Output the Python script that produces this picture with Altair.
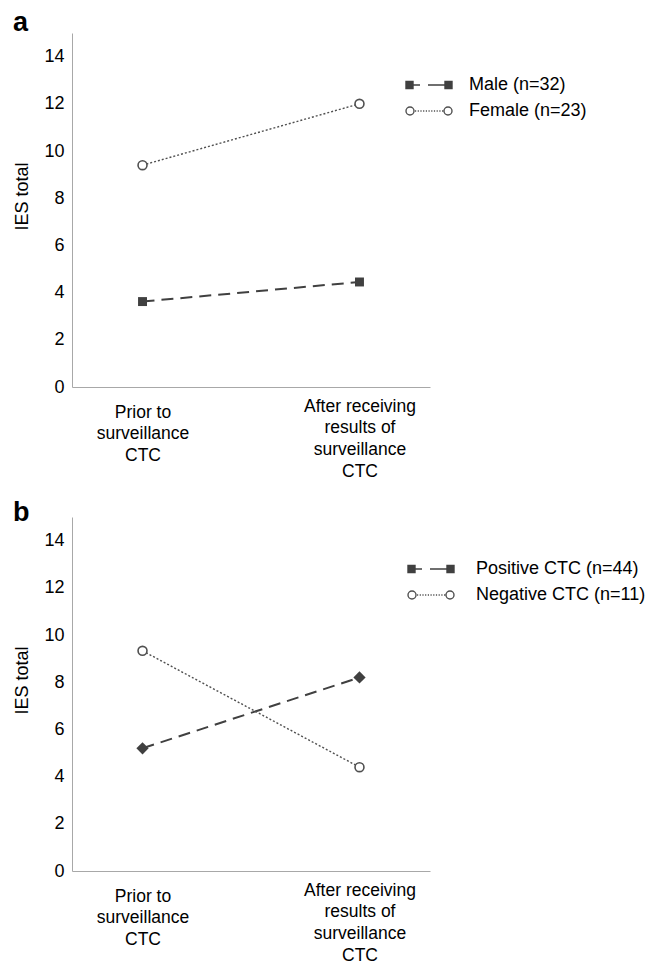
import json
import altair as alt
import pandas as pd

# ---------------- data ----------------
stages = ["Prior to surveillance CTC", "After receiving results of surveillance CTC"]
stage_lines = [["Prior to", "surveillance", "CTC"],
               ["After receiving", "results of", "surveillance", "CTC"]]

a_series = ["Male (n=32)", "Female (n=23)"]
a_male = [3.62, 4.45]
a_female = [9.4, 12.0]

b_series = ["Positive CTC (n=44)", "Negative CTC (n=11)"]
b_positive = [5.2, 8.2]
b_negative = [9.33, 4.4]

y_ticks = [0, 2, 4, 6, 8, 10, 12, 14]

# ---------------- style ----------------
FONT = "Liberation Sans"
DARK = "#404040"
GRAY = "#505050"
AXIS = "#a8a8a8"
K = 8.0  # px per path unit for legend symbols (sqrt(256)/2)


def u(px):
    return f"{px / K:.3f}"


def dotted_path():
    segs = []
    x = -14.0
    while x < 14.0:
        segs.append(f"M{u(x)},0H{u(x + 1.2)}")
        x += 2.7
    return " ".join(segs)


def square(x0, x1, h):
    return f"M{u(x0)},{u(-h)}H{u(x1)}V{u(h)}H{u(x0)}Z"


def circle(cx, r):
    return (f"M{u(cx - r)},0A{u(r)},{u(r)} 0 1,0 {u(cx + r)},0"
            f"A{u(r)},{u(r)} 0 1,0 {u(cx - r)},0Z")


PATH_FILLED = " ".join([
    square(-23.0, -16.0, 3.5),
    f"M{u(-16)},0H{u(-9)}",
    f"M{u(-1)},0H{u(16)}",
    square(16.0, 23.0, 3.5),
])
PATH_HOLLOW = " ".join([circle(-19.0, 4.0), circle(19.0, 4.0), dotted_path()])

label_expr = " : ".join(
    [f"datum.value == {json.dumps(s)} ? {json.dumps(l)}" for s, l in zip(stages[:-1], stage_lines[:-1])]
    + [json.dumps(stage_lines[-1])]
)
label_pad = {"condition": {"test": f"datum.value == {json.dumps(stages[1])}", "value": 10},
             "value": 16}


def panel(letter, names, first, second, first_shape, first_size, title_offset,
          leg_x, leg_offset):
    df = pd.DataFrame({
        "stage": stages * 2,
        "series": [names[0]] * 2 + [names[1]] * 2,
        "ies": first + second,
    })
    base = alt.Chart(df)
    x = alt.X("stage:N", sort=stages,
              scale=alt.Scale(type="point", padding=0.325),
              axis=alt.Axis(title=None, labelExpr=label_expr, labelAngle=0,
                            labelPadding=label_pad, labelLineHeight=21.7, labelFontSize=17.5,
                            labelBaseline="top", labelAlign="center"))
    y = alt.Y("ies:Q", scale=alt.Scale(domain=[0, 15], nice=False, zero=True),
              axis=alt.Axis(title="IES total", values=y_ticks, labelPadding=8,
                            titleFontSize=18, titleFont=FONT, titleFontWeight="normal",
                            titleAngle=270, titleX=-45, titleY=163,
                            titleAlign="center", titleBaseline="alphabetic"))
    s1 = base.transform_filter(alt.datum.series == names[0])
    s2 = base.transform_filter(alt.datum.series == names[1])
    l1 = s1.mark_line(color=DARK, strokeWidth=2, strokeDash=[12, 7]).encode(x=x, y=y)
    l2 = s2.mark_line(color=GRAY, strokeWidth=1.4, strokeDash=[2, 2]).encode(x=x, y=y)
    p1 = s1.mark_point(shape=first_shape, filled=True, color=DARK, size=first_size,
                       opacity=1).encode(x=x, y=y)
    p2 = s2.mark_point(shape="circle", filled=True, fill="white", stroke=GRAY,
                       strokeWidth=1.6, size=80, opacity=1).encode(x=x, y=y)
    leg = alt.Legend(title=None, orient="none", legendX=leg_x, legendY=43,
                     labelFont=FONT, labelFontSize=18, labelColor="#000", labelLimit=400,
                     symbolSize=256, symbolStrokeWidth=1.4, symbolOpacity=1,
                     labelOffset=leg_offset, rowPadding=8, padding=0)
    dummy = base.mark_point(filled=True, opacity=0).encode(
        x=x, y=y,
        shape=alt.Shape("series:N", scale=alt.Scale(domain=names, range=[PATH_FILLED, PATH_HOLLOW]), legend=leg),
        fill=alt.Fill("series:N", scale=alt.Scale(domain=names, range=[DARK, "white"]), legend=leg),
        stroke=alt.Stroke("series:N", scale=alt.Scale(domain=names, range=[DARK, GRAY]), legend=leg),
    )
    return alt.layer(l1, l2, p1, p2, dummy).properties(
        width=358, height=354,
        title=alt.TitleParams(letter, anchor="start", frame="bounds", font=FONT,
                              fontSize=27, fontWeight="bold", color="#000",
                              offset=title_offset),
    )


chart = alt.vconcat(
    panel("a", a_series, a_male, a_female, "square", 80, -4, 348, 31),
    panel("b", b_series, b_positive, b_negative, "diamond", 150, -10, 350, 36),
    spacing=19,
).resolve_scale(
    shape="independent", fill="independent", stroke="independent"
).resolve_legend(
    shape="independent", fill="independent", stroke="independent"
).configure_view(stroke=None).configure_axis(
    domainColor=AXIS, domainWidth=1, ticks=False, tickSize=0, grid=False,
    labelFont=FONT, labelFontSize=18, labelColor="#000",
).configure_title(baseline="alphabetic").properties(
    padding={"left": 5, "top": 1, "right": 5, "bottom": 5})

chart.save("out.html", embed_options={"renderer": "svg", "actions": False})
